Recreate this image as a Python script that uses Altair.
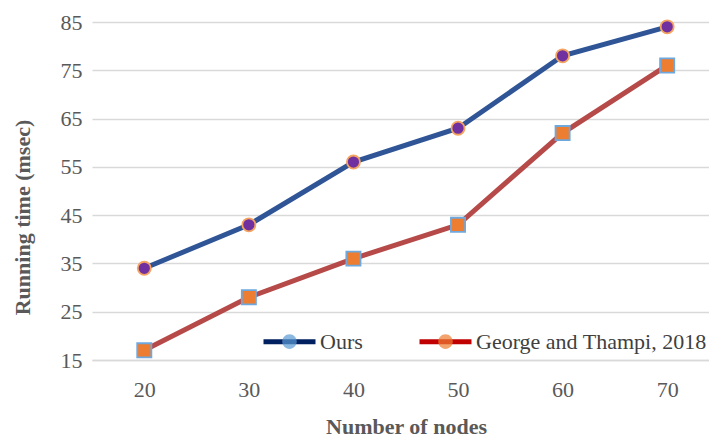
import altair as alt
import pandas as pd

nodes = [20, 30, 40, 50, 60, 70]
ours = [34, 43, 56, 63, 78, 84]
george = [17, 28, 36, 43, 62, 76]
series_names = ["Ours", "George and Thampi, 2018"]
y_ticks = [15, 25, 35, 45, 55, 65, 75, 85]

df = pd.DataFrame({
    "nodes": nodes * 2,
    "time": ours + george,
    "series": [series_names[0]] * len(nodes) + [series_names[1]] * len(nodes),
})

FONT = "Liberation Serif"
dom = series_names

x = alt.X("nodes:Q", scale=alt.Scale(domain=[15, 74], nice=False, zero=False),
          axis=alt.Axis(values=nodes, title="Number of nodes", grid=False, ticks=False,
                        labelPadding=19, titlePadding=16, titleX=314))
y = alt.Y("time:Q", scale=alt.Scale(domain=[15, 85], nice=False, zero=False),
          axis=alt.Axis(values=y_ticks, title="Running time (msec)", ticks=False, domain=False,
                        labelPadding=10, titlePadding=26, titleY=195))

lines = alt.Chart(df).mark_line(strokeWidth=5).encode(
    x=x, y=y,
    color=alt.Color("series:N", scale=alt.Scale(domain=dom, range=["#2F5597", "#B64A48"]), legend=None),
    detail="series:N",
)

points = alt.Chart(df).mark_point(filled=True, opacity=1, strokeWidth=1.8).encode(
    x="nodes:Q", y="time:Q",
    shape=alt.Shape("series:N", scale=alt.Scale(domain=dom, range=["circle", "square"]), legend=None),
    size=alt.Size("series:N", scale=alt.Scale(domain=dom, range=[170, 200]), legend=None),
    fill=alt.Fill("series:N", scale=alt.Scale(domain=dom, range=["#7030A0", "#ED7D31"]), legend=None),
    stroke=alt.Stroke("series:N", scale=alt.Scale(domain=dom, range=["#F4A460", "#6FA8DC"]), legend=None),
)

LINE_PATH = "M-1,0L1,0"
CIRCLE_PATH = "M-1,0L1,0M-0.28,0A0.28,0.28,0,1,0,0.28,0A0.28,0.28,0,1,0,-0.28,0Z"

common_legend = dict(
    orient="none", direction="horizontal", legendX=169, legendY=291, title=None,
    labelFont=FONT, labelFontSize=22, labelColor="#404040", labelOffset=2, labelLimit=400,
    columnPadding=46, symbolSize=2704, symbolStrokeWidth=5,
)

legend_lines = alt.Chart(df).transform_filter("false").mark_line(strokeWidth=5).encode(
    x="nodes:Q", y="time:Q",
    color=alt.Color("series:N", scale=alt.Scale(domain=dom, range=["#002060", "#C00000"]),
                    legend=alt.Legend(symbolType=LINE_PATH, symbolFillColor="transparent", **common_legend)),
)

legend_dots = alt.Chart(df).transform_filter("false").mark_point(filled=True).encode(
    x="nodes:Q", y="time:Q",
    fill=alt.Fill("series:N", scale=alt.Scale(domain=dom, range=["#5B9BD5", "#ED7D31"]),
                  legend=alt.Legend(symbolType=CIRCLE_PATH, symbolStrokeColor="transparent",
                                    labelOpacity=0, **common_legend)),
)

chart = alt.layer(lines, points, legend_lines, legend_dots).resolve_scale(
    color="independent", fill="independent", stroke="independent", shape="independent", size="independent"
).properties(
    width=617, height=338,
    autosize=alt.AutoSizeParams(type="none"),
    padding={"left": 92, "top": 22, "right": 0, "bottom": 80},
    background="white",
).configure_view(stroke=None).configure_axis(
    labelFont=FONT, labelFontSize=22, labelColor="#595959",
    titleFont=FONT, titleFontSize=22, titleFontWeight="bold", titleColor="#595959",
    gridColor="#D9D9D9", gridWidth=1.5, domainColor="#D9D9D9", domainWidth=1.5,
)

chart.save("out.html", embed_options={"renderer": "svg", "actions": False})
